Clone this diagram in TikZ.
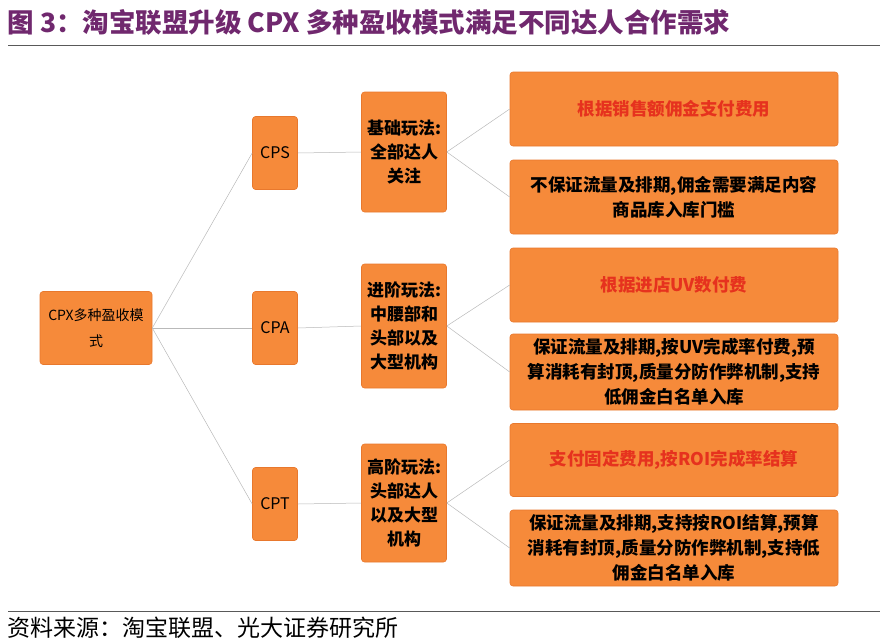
\documentclass[tikz,border=0pt]{standalone}
\usepackage{fontspec}
\setmainfont{Noto Sans CJK SC}
\usetikzlibrary{positioning}
\definecolor{boxorange}{RGB}{246,138,58}
\definecolor{boxedge}{RGB}{232,120,45}
\definecolor{titlepurple}{RGB}{112,40,110}
\definecolor{redtext}{RGB}{230,50,30}
\tikzset{
  obox/.style={draw=boxedge, fill=boxorange, rounded corners=3pt, line width=.6pt, align=center, inner sep=0pt, font=\fontsize{17.5}{25}\selectfont\bfseries},
  link/.style={draw=gray!55, line width=.5pt}
}
\begin{document}
\begin{tikzpicture}[x=1pt,y=-1pt]
\useasboundingbox (0,0) rectangle (888,640);

% titel
\node[anchor=west, text=titlepurple, font=\fontsize{26.5}{30}\selectfont\bfseries] (title) at (4,22) {图 3：淘宝联盟升级 CPX 多种盈收模式满足不同达人合作需求};
\draw[line width=.8pt, gray!70!black] (8,45) -- (880,45);

% koren
\node[obox, minimum width=112, minimum height=73, font=\fontsize{14}{26}\selectfont] (root) at (96,328) {CPX多种盈收模\\式};

% uroven 1
\node[obox, minimum width=45, minimum height=73, font=\fontsize{16}{20}\selectfont] (cps) at (275,153) {CPS};
\node[obox, minimum width=45, minimum height=73, font=\fontsize{16}{20}\selectfont] (cpa) at (275,328) {CPA};
\node[obox, minimum width=45, minimum height=73, font=\fontsize{16}{20}\selectfont] (cpt) at (275,504) {CPT};

% uroven 2
\node[obox, minimum width=85, minimum height=120, font=\fontsize{17}{24}\selectfont\bfseries] (m1) at (404,152) {基础玩法:\\全部达人\\关注};
\node[obox, minimum width=85, minimum height=124, font=\fontsize{17}{24}\selectfont\bfseries] (m2) at (404,326) {进阶玩法:\\中腰部和\\头部以及\\大型机构};
\node[obox, minimum width=85, minimum height=118, font=\fontsize{17}{24}\selectfont\bfseries] (m3) at (404,503) {高阶玩法:\\头部达人\\以及大型\\机构};

% popisy
\node[obox, minimum width=328, minimum height=74, text=redtext] (r1) at (674,109) {根据销售额佣金支付费用};
\node[obox, minimum width=328, minimum height=74] (r2) at (674,197) {不保证流量及排期,佣金需要满足内容\\商品库入库门槛};
\node[obox, minimum width=328, minimum height=74, text=redtext] (r3) at (674,285) {根据进店UV数付费};
\node[obox, minimum width=328, minimum height=76] (r4) at (674,372) {保证流量及排期,按UV完成率付费,预\\算消耗有封顶,质量分防作弊机制,支持\\低佣金白名单入库};
\node[obox, minimum width=328, minimum height=73, text=redtext] (r5) at (674,460) {支付固定费用,按ROI完成率结算};
\node[obox, minimum width=328, minimum height=76] (r6) at (674,548) {保证流量及排期,支持按ROI结算,预算\\消耗有封顶,质量分防作弊机制,支持低\\佣金白名单入库};

% spoje
\foreach \a/\b in {root/cps,root/cpa,root/cpt,cps/m1,cpa/m2,cpt/m3,m1/r1,m1/r2,m2/r3,m2/r4,m3/r5,m3/r6}
  \draw[link] (\a.east) -- (\b.west);

% zdroj
\draw[line width=.8pt, gray!70!black] (8,611) -- (880,611);
\node[anchor=west, font=\fontsize{23}{26}\selectfont] (src) at (4,628) {资料来源：淘宝联盟、光大证券研究所};
\end{tikzpicture}
\end{document}
